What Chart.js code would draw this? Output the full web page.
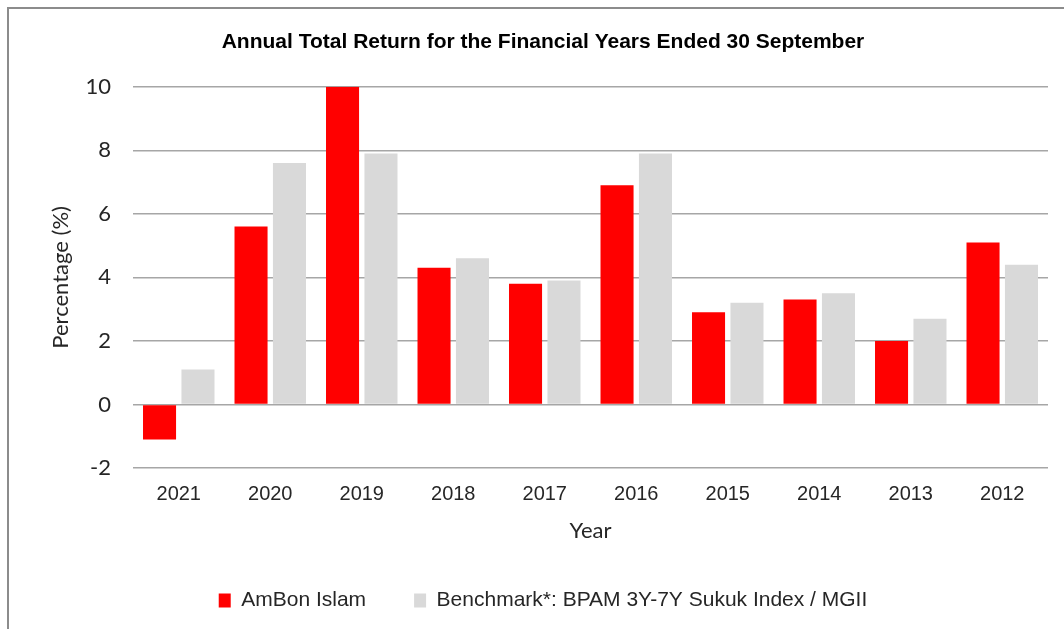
<!DOCTYPE html>
<html>
<head>
<meta charset="utf-8">
<script src="https://cdn.jsdelivr.net/npm/chart.js@4/dist/chart.umd.min.js"></script>
<style>
  html, body { margin: 0; padding: 0; background: #fff; }
  #wrap { width: 1064px; height: 629px; position: relative; }
</style>
</head>
<body>
<div id="wrap"><canvas id="returns"></canvas></div>
<script>
// Donnees
const years = ['2021', '2020', '2019', '2018', '2017', '2016', '2015', '2014', '2013', '2012'];
const ambonIslam = [-1.1, 5.6, 10.0, 4.3, 3.8, 6.9, 2.9, 3.3, 2.0, 5.1];
const benchmark = [1.1, 7.6, 7.9, 4.6, 3.9, 7.9, 3.2, 3.5, 2.7, 4.4];

const narrow = "'Liberation Sans Narrow', 'Arial Narrow', 'Liberation Sans', sans-serif";
const calibriLike = "Lato, 'Open Sans', sans-serif";
const arialLike = "'Liberation Sans', Arial, sans-serif";

// cadre gris en haut et a gauche
const framePlugin = {
    id: 'frame',
    beforeDraw(chart) {
        const ctx = chart.ctx;
        ctx.save();
        ctx.fillStyle = '#ffffff';
        ctx.fillRect(0, 0, chart.width, chart.height);
        ctx.strokeStyle = '#8c8c8c';
        ctx.lineWidth = 2;
        ctx.beginPath();
        ctx.moveTo(8, chart.height);
        ctx.lineTo(8, 8);
        ctx.lineTo(chart.width, 8);
        ctx.stroke();
        ctx.restore();
    }
};

const ctx = document.getElementById('returns').getContext('2d');
new Chart(ctx, {
    type: 'bar',
    data: {
        labels: years,
        datasets: [
            {
                label: 'AmBon Islam',
                data: ambonIslam,
                backgroundColor: '#ff0000',
                borderWidth: 0,
                categoryPercentage: 0.84,
                barPercentage: 0.86
            },
            {
                label: 'Benchmark*: BPAM 3Y-7Y Sukuk Index / MGII',
                data: benchmark,
                backgroundColor: '#d9d9d9',
                borderWidth: 0,
                categoryPercentage: 0.84,
                barPercentage: 0.86
            }
        ]
    },
    options: {
        responsive: true,
        maintainAspectRatio: false,
        animation: false,
        layout: {
            padding: { top: 0, left: 38, right: 16, bottom: 8 }
        },
        plugins: {
            title: {
                display: true,
                text: 'Annual Total Return for the Financial Years Ended 30 September',
                color: '#000000',
                font: { family: narrow, size: 21, weight: 'bold' },
                padding: { top: 30, bottom: 31.5 }
            },
            legend: {
                position: 'bottom',
                labels: {
                    color: '#262626',
                    font: { family: narrow, size: 21 },
                    boxWidth: 12,
                    boxHeight: 14,
                    padding: 48
                }
            },
            tooltip: { enabled: false }
        },
        scales: {
            x: {
                grid: { display: false, drawTicks: false },
                border: { display: false },
                ticks: {
                    color: '#262626',
                    font: { family: arialLike, size: 20 },
                    padding: 14
                },
                title: {
                    display: true,
                    text: 'Year',
                    color: '#262626',
                    font: { family: calibriLike, size: 22, lineHeight: 1 },
                    padding: { top: 0, bottom: 0 }
                }
            },
            y: {
                min: -2,
                max: 10,
                ticks: {
                    stepSize: 2,
                    color: '#262626',
                    font: { family: calibriLike, size: 22 },
                    padding: 22
                },
                grid: { color: '#a6a6a6', lineWidth: 1.5, drawTicks: false },
                border: { display: false },
                title: {
                    display: true,
                    text: 'Percentage (%)',
                    color: '#262626',
                    font: { family: calibriLike, size: 22 },
                    padding: { top: 10, bottom: 0 }
                },
                afterFit(scale) {
                    scale.width = 95;
                }
            }
        }
    },
    plugins: [framePlugin]
});
</script>
</body>
</html>
